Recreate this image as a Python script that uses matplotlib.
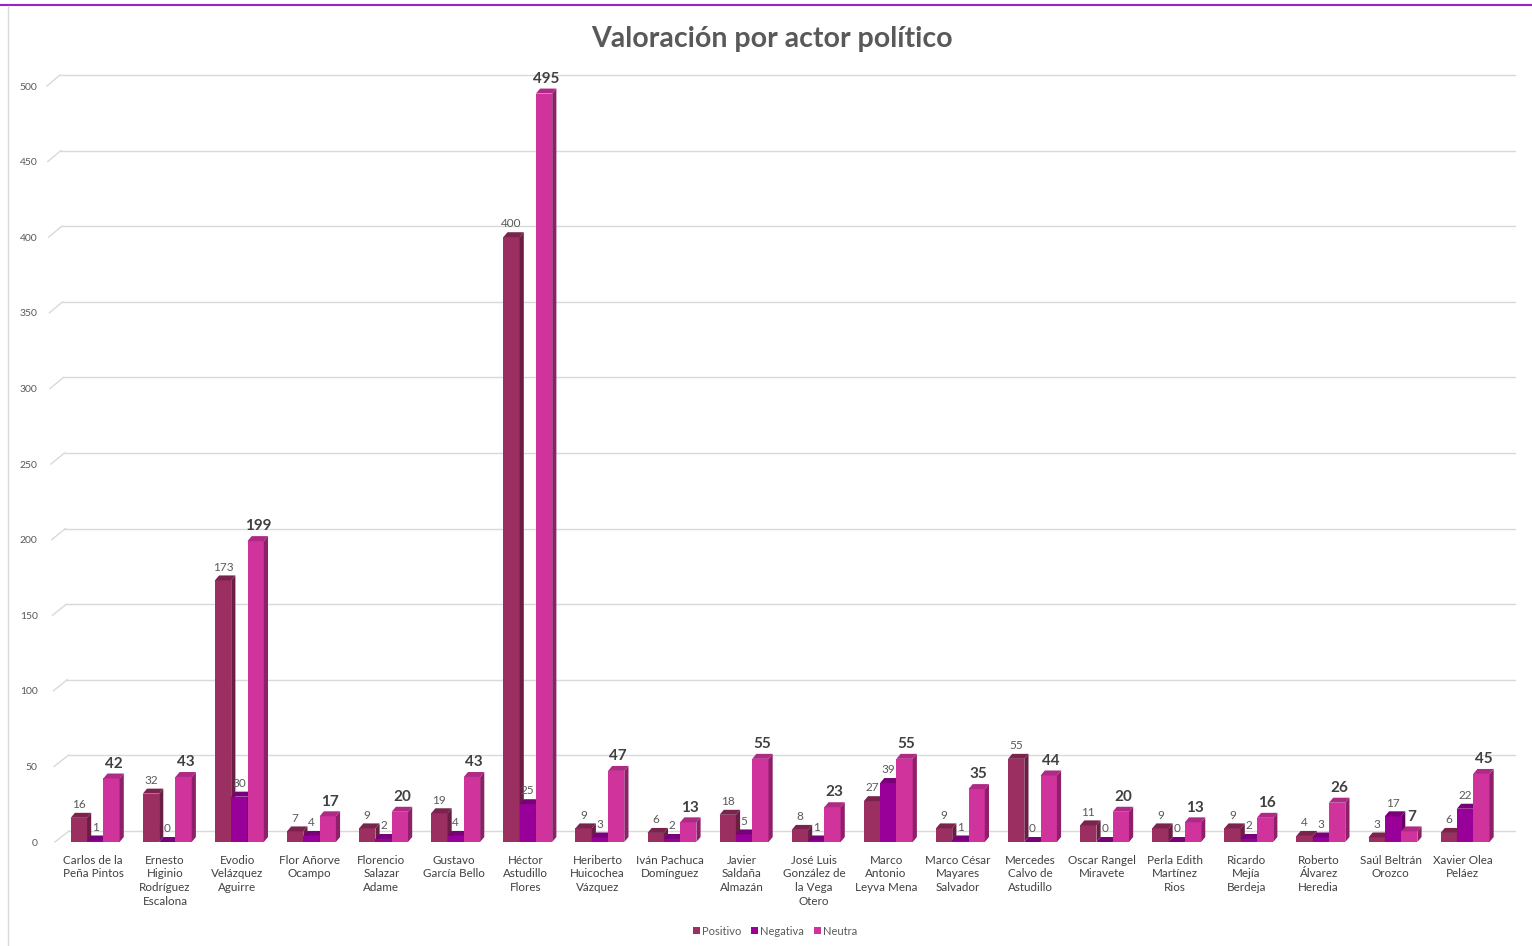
import matplotlib
matplotlib.use("Agg")
import matplotlib.pyplot as plt
from matplotlib.patches import Polygon, Rectangle
from matplotlib.lines import Line2D
import numpy as np

plt.rcParams['font.family'] = ['Lato', 'DejaVu Sans']

actores = ["Carlos de la\nPeña Pintos", "Ernesto\nHiginio\nRodríguez\nEscalona",
           "Evodio\nVelázquez\nAguirre", "Flor Añorve\nOcampo", "Florencio\nSalazar\nAdame",
           "Gustavo\nGarcía Bello", "Héctor\nAstudillo\nFlores", "Heriberto\nHuicochea\nVázquez",
           "Iván Pachuca\nDomínguez", "Javier\nSaldaña\nAlmazán", "José Luis\nGonzález de\nla Vega\nOtero",
           "Marco\nAntonio\nLeyva Mena", "Marco César\nMayares\nSalvador", "Mercedes\nCalvo de\nAstudillo",
           "Oscar Rangel\nMiravete", "Perla Edith\nMartínez\nRios", "Ricardo\nMejía\nBerdeja",
           "Roberto\nÁlvarez\nHeredia", "Saúl Beltrán\nOrozco", "Xavier Olea\nPeláez"]
positivo = [16, 32, 173, 7, 9, 19, 400, 9, 6, 18, 8, 27, 9, 55, 11, 9, 9, 4, 3, 6]
negativa = [1, 0, 30, 4, 2, 4, 25, 3, 2, 5, 1, 39, 1, 0, 0, 0, 2, 3, 17, 22]
neutra = [42, 43, 199, 17, 20, 43, 495, 47, 13, 55, 23, 55, 35, 44, 20, 13, 16, 26, 7, 45]

series = [("Positivo", positivo, "#9B2F62", "#6A1E43", "#7A234D"),
          ("Negativa", negativa, "#990099", "#680068", "#780078"),
          ("Neutra", neutra, "#D0339B", "#8E1F69", "#AE2A84")]

pitch = 72.1  # px per group
fig = plt.figure(figsize=(15.32, 9.46), dpi=100)
ax = fig.add_axes([(93 - 0.7 * pitch) / 1532, 1 - 842 / 946, 20.45 * pitch / 1532, 756 / 946])
ax.set_xlim(-0.7, 19.75)
ax.set_ylim(0, 500)
for s in ax.spines.values():
    s.set_visible(False)

# grid with a bit of perspective
gdy = 7.3
for v in range(0, 501, 50):
    xfl = (55 - 8 * v / 500 - 93) / pitch
    xbl = (69 - 9 * v / 500 - 93) / pitch
    ax.plot([xbl, 19.72], [v + gdy, v + gdy], color="#D9D9D9", lw=1, zorder=0, clip_on=False)
    ax.plot([xfl, xbl], [v, v + gdy], color="#D9D9D9", lw=1, zorder=0, clip_on=False)

w = 0.226
dx, dy = 0.058, 3.3
x = np.arange(len(actores))
for k, (name, vals, cf, cs, ct) in enumerate(series):
    for i, h in enumerate(vals):
        x0 = x[i] + 0.03 - 1.5 * w + k * w
        z = 2 + k
        ax.add_patch(Rectangle((x0, 0), w, h, facecolor=cf, edgecolor="none", zorder=z))
        ax.add_patch(Polygon([(x0 + w, 0), (x0 + w + dx, dy), (x0 + w + dx, h + dy), (x0 + w, h)],
                             closed=True, facecolor=cs, edgecolor="none", zorder=z))
        ax.add_patch(Polygon([(x0, h), (x0 + dx, h + dy), (x0 + w + dx, h + dy), (x0 + w, h)],
                             closed=True, facecolor=ct, edgecolor="none", zorder=z))
        if k == 2:
            ax.annotate(str(h), (x0 + (w + dx) / 2, h + dy), xytext=(0, 2), textcoords="offset points",
                        ha="center", va="bottom", fontsize=11, fontweight="bold", color="#404040", zorder=10)
        else:
            ax.annotate(str(h), (x0 + w / 2, h + dy), xytext=(0, 2), textcoords="offset points",
                        ha="center", va="bottom", fontsize=8.5, color="#595959", zorder=10)

ax.set_xticks(x)
ax.set_xticklabels(actores, linespacing=1.3)
ax.set_yticks(range(0, 501, 50))
ax.tick_params(axis="both", length=0, labelsize=7.5, labelcolor="#595959")
ax.tick_params(axis="x", pad=9, labelcolor="#404040", labelsize=8.4)

fig.text(0.504, 0.959, "Valoración por actor político", ha="center", va="center",
         fontsize=20.5, fontweight="bold", color="#595959")

handles = [Rectangle((0, 0), 1, 1, facecolor=c[2]) for c in series]
fig.legend(handles, [c[0] for c in series], loc="center", bbox_to_anchor=(0.506, 1 - 931 / 946),
           ncol=3, frameon=False, fontsize=8, handlelength=0.6, handleheight=0.6,
           handletextpad=0.2, columnspacing=0.9, labelcolor="#595959")

# frame lines
fig.add_artist(Line2D([0, 1], [1 - 5 / 946, 1 - 5 / 946], color="#A020C8", lw=1.5))
fig.add_artist(Line2D([8 / 1532, 8 / 1532], [0, 1 - 6 / 946], color="#D9D9D9", lw=1))

fig.savefig("out.png", dpi=100)
